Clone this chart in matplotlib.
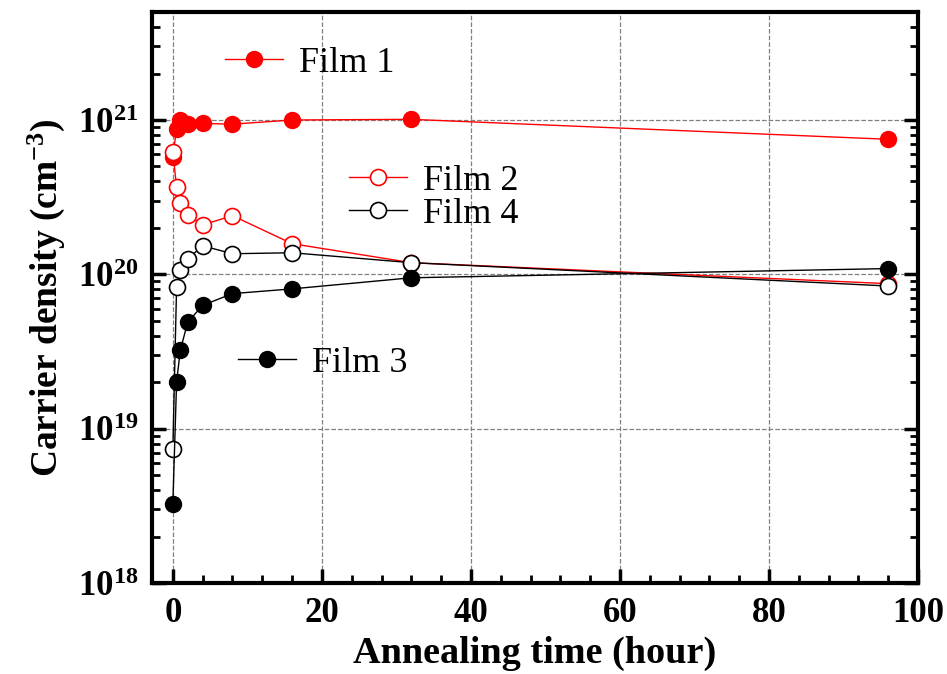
import matplotlib
matplotlib.use("Agg")
import matplotlib.pyplot as plt
from matplotlib.ticker import MultipleLocator, LogLocator, FuncFormatter, NullFormatter
import numpy as np

plt.rcParams['font.family'] = ['Liberation Serif', 'DejaVu Serif']
plt.rcParams['mathtext.fontset'] = 'custom'
plt.rcParams['mathtext.rm'] = 'Liberation Serif:bold'
plt.rcParams['mathtext.it'] = 'Liberation Serif:bold'
plt.rcParams['mathtext.bf'] = 'Liberation Serif:bold'

# annealing time (hour)
hours = [0, 0.5, 1, 2, 4, 8, 16, 32, 96]

# carrier density (cm^-3)
film1 = [5.8e20, 8.8e20, 1.0e21, 9.4e20, 9.5e20, 9.4e20, 1.0e21, 1.01e21, 7.5e20]
film2 = [6.2e20, 3.66e20, 2.88e20, 2.44e20, 2.09e20, 2.4e20, 1.58e20, 1.19e20, 8.7e19]
film3 = [3.27e18, 2.0e19, 3.23e19, 4.9e19, 6.3e19, 7.5e19, 8.05e19, 9.5e19, 1.09e20]
film4 = [7.4e18, 8.3e19, 1.07e20, 1.26e20, 1.53e20, 1.36e20, 1.38e20, 1.19e20, 8.4e19]

fig = plt.figure(figsize=(9.47, 6.74), dpi=100)
ax = fig.add_axes([0.1605, 0.135, 0.8089, 0.847])

ms = 11.5
l1, = ax.plot(hours, film1, '-o', color='red', mfc='red', mec='red', ms=ms, lw=1, label='Film 1')
l2, = ax.plot(hours, film2, '-o', color='red', mfc='white', mec='red', ms=ms, lw=1, mew=1.2, label='Film 2')
l4, = ax.plot(hours, film4, '-o', color='black', mfc='white', mec='black', ms=ms, lw=1, mew=1.2, label='Film 4')
l3, = ax.plot(hours, film3, '-o', color='black', mfc='black', mec='black', ms=ms, lw=1, label='Film 3')

ax.set_yscale('log')
ax.set_xlim(-2.8, 100)
ax.set_ylim(1e18, 5e21)

ax.xaxis.set_major_locator(MultipleLocator(20))
ax.xaxis.set_minor_locator(MultipleLocator(4))
ax.yaxis.set_major_locator(LogLocator(base=10))
ax.yaxis.set_minor_locator(LogLocator(base=10, subs=range(2, 10)))
ax.yaxis.set_major_formatter(FuncFormatter(lambda v, p: r'$\mathbf{10^{%d}}$' % round(np.log10(v))))
ax.yaxis.set_minor_formatter(NullFormatter())

ax.grid(True, which='major', ls='--', color='gray', lw=0.9)
ax.tick_params(axis='y', which='both', direction='in', left=True, right=True)
ax.tick_params(axis='x', which='both', direction='in', bottom=True, top=False)
ax.tick_params(which='major', length=10, width=2.5, labelsize=25, pad=10)
ax.tick_params(which='minor', length=6, width=2)
for lab in ax.get_xticklabels():
    lab.set_fontweight('bold')
for sp in ax.spines.values():
    sp.set_linewidth(3)

ax.set_xlabel('Annealing time (hour)', fontsize=27.5, fontweight='bold', labelpad=4)
ax.set_ylabel('Carrier density (cm$^{\\mathbf{-3}}$)', fontsize=27, fontweight='bold', labelpad=8)

leg_kw = dict(frameon=False, fontsize=26, loc='center left', borderpad=0,
              borderaxespad=0, handlelength=1.6, handletextpad=0.45, labelspacing=0.0)
leg1 = ax.legend(handles=[l1], bbox_to_anchor=(0.095, 0.911), **leg_kw)
ax.add_artist(leg1)
leg2 = ax.legend(handles=[l2, l4], bbox_to_anchor=(0.257, 0.675), **leg_kw)
ax.add_artist(leg2)
ax.legend(handles=[l3], bbox_to_anchor=(0.112, 0.385), **leg_kw)

fig.savefig('out.png', dpi=100)
